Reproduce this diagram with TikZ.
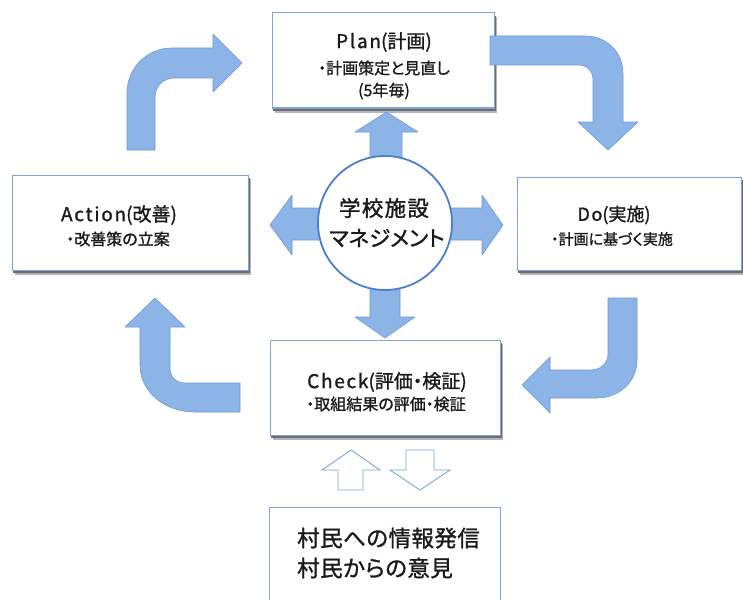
\documentclass[tikz,border=0pt]{standalone}
\usepackage{fontspec}
\setmainfont[RawFeature=+palt,FakeBold=1.2]{Noto Sans CJK JP}
\newfontfamily\widelatin[LetterSpace=9,FakeBold=1.2]{Noto Sans CJK JP}
\definecolor{arrowfill}{HTML}{8DB4E6}
\definecolor{arrowline}{HTML}{6F98D4}
\definecolor{boxline}{HTML}{7FA4DC}
\definecolor{circline}{HTML}{4A7FD0}
\definecolor{shadowc}{HTML}{6C6C74}
\definecolor{textc}{HTML}{1A1A1A}
\newcommand{\lat}[1]{{\widelatin #1}}
\begin{document}
\begin{tikzpicture}[x=1pt,y=-1pt,
  box/.style={rectangle, draw=boxline, line width=1pt, fill=white, inner sep=0pt},
  shadowsoft/.style={fill=shadowc!50},
  shadowhard/.style={fill=shadowc},
  fat/.style={fill=arrowfill, draw=arrowline, line width=0.6pt, line join=round},
  hollow/.style={fill=white, draw=boxline, line width=0.9pt, line join=miter},
  title/.style={text=textc, inner sep=0pt, font=\fontsize{19}{22}\selectfont},
  sub/.style={text=textc, inner sep=0pt, font=\fontsize{16}{19}\selectfont}
]
\clip (0,0) rectangle (743,599);
\fill[white] (0,0) rectangle (743,599);

% box shadows
\fill[shadowsoft] (275,17) rectangle (497,113);
\fill[shadowhard] (273,16) rectangle (495.5,111);
\fill[shadowsoft] (15,179) rectangle (251,275);
\fill[shadowhard] (13,178) rectangle (249.5,273);
\fill[shadowsoft] (520,181) rectangle (744,275);
\fill[shadowhard] (518,180) rectangle (742.5,273);
\fill[shadowsoft] (273,344) rectangle (503,440);
\fill[shadowhard] (271,343) rectangle (501.5,438);

% boxes
\node[box, minimum width=222pt, minimum height=95pt] (plan) at (383,60.5) {};
\node[box, minimum width=236pt, minimum height=95pt] (action) at (130,222.5) {};
\node[box, minimum width=224pt, minimum height=93pt] (do) at (629,223.5) {};
\node[box, minimum width=230pt, minimum height=95pt] (check) at (385,387.5) {};
\node[box, minimum width=231pt, minimum height=110pt] (vill) at (384.5,562) {};

% block arrows around the centre
\draw[fat] (370,160) -- (370,132) -- (355,132) -- (386.5,112) -- (418,132) -- (402,132) -- (402,160) -- cycle;
\draw[fat] (325,208) -- (292,208) -- (292,195) -- (270,225) -- (292,255) -- (292,240) -- (325,240) -- cycle;
\draw[fat] (445,208) -- (482,208) -- (482,195) -- (503,225) -- (482,255) -- (482,240) -- (445,240) -- cycle;
\draw[fat] (370,285) -- (370,317) -- (355,317) -- (385,338) -- (415,317) -- (400,317) -- (400,285) -- cycle;

% centre circle
\node[circle, draw=circline, line width=1.8pt, fill=white, minimum size=134pt, inner sep=0pt] (mgmt) at (385,223) {};
\node[text=textc, inner sep=0pt, font=\fontsize{21.5}{29}\selectfont] (mgmt1) at (384,208) {\addfontfeature{LetterSpace=6}学校施設};
\node[text=textc, inner sep=0pt, font=\fontsize{21.5}{29}\selectfont] (mgmt2) at (387,238) {マネジメント};

% bent arrows
\draw[fat] (127,150) -- (127,93) .. controls (127,68) and (147,48) .. (172,48) -- (213,48) -- (213,34) -- (242,63) -- (213,92) -- (213,78) -- (175,78) .. controls (163,78) and (155,86) .. (155,98) -- (155,150) -- cycle;
\draw[fat] (490,36) -- (585,36) .. controls (607,36) and (623,52) .. (623,74) -- (623,122) -- (638,122) -- (608,150) -- (578,122) -- (593,122) -- (593,80) .. controls (593,71) and (587,65) .. (578,65) -- (490,65) -- cycle;
\draw[fat] (637,298) -- (637,360) .. controls (637,382) and (619,398) .. (597,398) -- (550,398) -- (550,413) -- (522,385) -- (550,357) -- (550,370) -- (590,370) .. controls (600,370) and (608,364) .. (608,354) -- (608,298) -- cycle;
\draw[fat] (155,298) -- (185,327) -- (170,327) -- (170,368) .. controls (170,377) and (176,383) .. (185,383) -- (240,383) -- (240,412) -- (195,412) .. controls (165,412) and (140,392) .. (140,365) -- (140,327) -- (125,327) -- cycle;

% hollow arrows between check and villagers
\draw[hollow] (338,490) -- (338,470) -- (322,470) -- (351,450) -- (380,470) -- (363,470) -- (363,490) -- cycle;
\draw[hollow] (406,450) -- (406,470) -- (390,470) -- (420,490) -- (450,470) -- (434,470) -- (434,450) -- cycle;

% texts
\node[title] (plan1) at (384,42) {\lat{Plan}(計画)};
\node[sub] (plan2) at (384,68) {・計画策定と見直し};
\node[sub] (plan3) at (384,91) {(5年毎)};

\node[title] (act1) at (119,215) {\lat{Action}(改善)};
\node[sub] (act2) at (118,239) {・改善策の立案};

\node[title, font=\fontsize{18}{21}\selectfont] (do1) at (614,215) {\lat{Do}(実施)};
\node[sub, font=\fontsize{15}{18}\selectfont] (do2) at (612,239) {・計画に基づく実施};

\node[title] (chk1) at (387,382) {\lat{Check}(評価・検証)};
\node[sub] (chk2) at (386,404) {・取組結果の評価・検証};

\node[text=textc, align=left, anchor=west, inner sep=0pt, font=\fontsize{22.5}{30}\selectfont] (villt) at (297,553) {\addfontfeature{LetterSpace=2}村民への情報発信\\\addfontfeature{LetterSpace=2}村民からの意見};
\end{tikzpicture}
\end{document}
